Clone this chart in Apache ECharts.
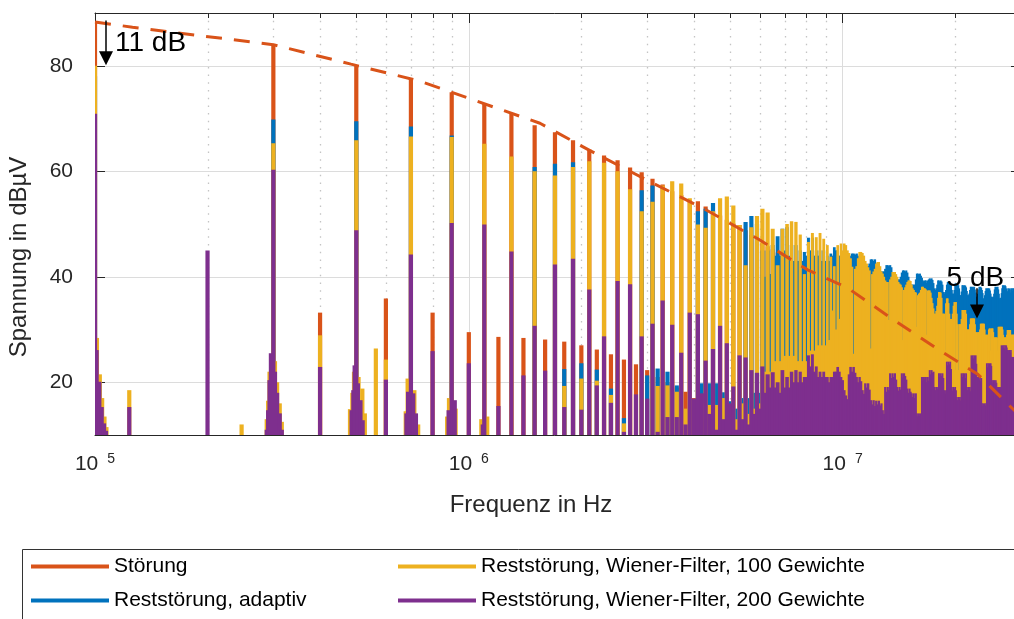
<!DOCTYPE html>
<html>
<head>
<meta charset="utf-8">
<script src="https://cdn.jsdelivr.net/npm/echarts@6/dist/echarts.min.js"></script>
<style>
html,body{margin:0;padding:0;background:#fff;}
#chart{width:1014px;height:619px;}
</style>
</head>
<body>
<div id="chart"></div>
<script>
// ---------------- DATA ----------------
// Spectral lines: array index i  ->  harmonic order n = i + 1, frequency = n * 100 kHz
const harmonicStepHz = 100000;

const stoerung = [
 88.3, null, 84.0, 33.2, 80.0, 35.9, 77.5, 33.2, 75.0, 29.5,
 72.8, 28.6, 70.9, 28.4, 68.7, 28.1, 67.4, 27.7, 65.9, 27.0,
 64.1, 26.2, 63.0, 25.3, 62.1, 24.3, 60.7, 23.4, 59.8, 22.3,
 58.6, 21.0, 57.5, 20.0, 56.2, 19.0, 55.5, 18.2, 54.5, 17.0,
 54.3, 16.0, 53.3, 15.0, 52.4, 15.0, 51.6, 14.0, 50.8, 14.0,
 50.1, 13.0, 49.8, 13.0, 48.8, 13.0, 47.9, 12.0, 47.2, 12.0,
 46.4, null, 45.8, null, 45.2, null, 44.6, null, 44.0, null,
 43.5, null, 43.0, null, 42.4, null, 41.9, null, 41.4, null,
 40.9, null, 40.4, null, 40.0, null, 39.5, null, 39.0, null,
 38.6, null, 38.2, null, 37.8, null, 37.4, null, 37.0
];

const adaptiv = [
 78.0, null, 69.8, null, 69.5, null, 68.5, null, 66.8, null,
 null, null, null, null, 60.8, null, 61.4, 22.5, 61.7, 23.6,
 null, 22.4, null, 18.8, null, 13.2, null, null, 56.4, 21.3,
 57.3, 22.6, null, 22.0, null, 19.4, null, null, null, null,
 52.4, 19.8, 52.9, 19.8, 54.0, 19.8, null, 18.1, null, 16.4,
 null, 15.0, null, 17.0, 50.4, 17.0, 51.5, 18.0, 50.0, 18.0,
 45.0, 40.0, 45.0, 40.5, 46.0, 44.0, 47.7, 44.0, 49.1, 45.0,
 49.4, 44.0, 46.0, 43.0, 46.0, 43.0, 45.0, 43.0, 44.7, 44.0,
 47.4, 45.0, 47.4, 44.0, 45.0, 44.0, 45.0, 43.0, 45.0, 43.0,
 44.0, 43.0, 44.4, 44.0, 45.6, 45.0, 45.0, 44.0, 44.0, 43.0,
 43.0, 43.0, 43.0, 43.5, 44.0, 44.4, 44.4, 44.2, 44.4, 44.0,
 43.5, 42.0, 42.0, 42.0, 42.0, 42.0, 42.0, 42.5, 43.3, 43.3,
 43.0, 43.3, 42.5, 41.0, 41.0, 41.0, 41.0, 41.0, 41.0, 41.5,
 42.2, 42.2, 42.0, 42.2, 41.8, 39.5, 39.5, 39.5, 39.5, 39.5,
 39.5, 39.5, 40.0, 40.8, 41.2, 41.2, 41.0, 41.2, 40.8, 40.0,
 38.5, 38.5, 38.5, 38.5, 38.5, 38.5, 39.5, 40.6, 40.6, 40.4,
 40.6, 40.2, 39.8, 39.3, 39.0, 39.3, 39.3, 38.8, 39.3, 39.5,
 39.7, 39.5, 39.7, 39.4, 38.8, 37.8, 37.5, 37.8, 38.5, 39.3,
 39.3, 39.0, 39.3, 39.1, 38.5, 37.1, 36.8, 37.1, 37.5, 38.5,
 39.0, 38.8, 39.0, 38.9, 38.5, 37.5, 36.8, 36.8, 37.5, 38.7,
 38.7, 38.5, 38.7, 38.4, 37.8, 36.5, 36.5, 37.2, 38.4, 38.4,
 38.2, 38.4, 38.3, 38.0, 37.3, 36.5, 36.5, 36.8, 37.5, 38.1,
 38.1, 37.9, 38.1, 38.0, 38.1, 37.6, 37.0, 36.2, 36.2, 36.8,
 37.6, 38.1, 38.0, 38.1, 37.9, 37.5, 36.9, 35.9, 35.9, 36.5,
 37.3, 37.8, 37.6, 37.8, 37.8, 37.7, 37.8, 37.4, 36.8, 36.2,
 36.2, 36.0, 36.2, 36.8, 37.6, 38.1, 38.0, 38.1, 37.9, 38.1,
 37.6, 36.8, 35.9, 35.9, 36.0, 36.9, 37.8, 38.4, 38.3, 38.4,
 38.2, 38.4, 38.2, 37.8, 37.3, 37.2, 37.8, 37.6, 37.8, 37.5,
 37.0, 37.8, 37.6, 37.8, 37.3, 37.8, 37.6, 37.8, 37.4, 37.8
];

const wiener100 = [
 80.0, null, 65.3, 28.9, 65.9, 24.3, 66.6, null, 66.5, null,
 65.2, null, 62.8, null, 60.0, null, 59.2, 19.3, 60.8, 20.7,
 61.9, 20.3, 61.6, 17.6, 60.0, 12.2, 56.6, null, 52.4, null,
 54.2, 19.3, 57.3, 19.4, 58.1, 18.2, 57.7, 15.0, 54.9, null,
 49.9, 16.0, 49.3, 15.7, 52.4, 15.7, 54.9, 17.0, 55.2, 15.0,
 53.5, 13.0, 49.8, 16.0, 42.2, 14.0, 49.4, 15.0, 51.5, 16.0,
 52.9, 22.0, 52.2, 22.0, 49.1, 24.0, 42.2, 24.0, 49.1, 25.0,
 50.0, 25.0, 50.5, 25.0, 50.4, 24.0, 48.0, 24.0, 40.5, 24.0,
 46.6, 26.0, 48.3, 26.0, 47.5, 27.0, 48.3, 27.0, 47.2, 27.0,
 46.0, 28.0, 43.8, 33.6, 42.0, 30.0, 46.0, 32.0, 46.3, 45.0,
 46.3, 46.0, 45.0, 44.5, 43.5, 41.9, 25.4, 41.5, 42.0, 43.5,
 44.7, 44.7, 44.5, 44.0, 43.0, 42.5, 41.8, 41.2, 26.4, 40.5,
 41.0, 41.5, 42.5, 42.8, 42.8, 42.0, 41.0, 40.6, 40.0, 39.3,
 39.0, 39.0, 31.8, 39.5, 40.0, 40.9, 40.9, 40.9, 40.5, 40.0,
 39.0, 38.7, 38.5, 38.0, 28.0, 37.5, 38.0, 38.5, 39.0, 39.3,
 39.3, 39.2, 38.5, 37.8, 37.5, 37.1, 37.0, 30.5, 36.5, 36.8,
 37.0, 37.5, 38.1, 38.1, 37.8, 37.8, 37.6, 29.0, 37.4, 37.4,
 37.4, 37.0, 36.0, 35.0, 34.0, 33.0, 33.0, 33.5, 34.5, 36.0,
 37.1, 37.1, 37.0, 36.0, 33.0, 33.0, 33.0, 26.0, 35.0, 35.9,
 35.9, 35.0, 33.0, 32.0, 32.0, 32.0, 33.0, 34.5, 35.2, 22.3,
 35.2, 33.0, 31.0, 22.3, 31.0, 31.0, 31.0, 32.0, 33.7, 33.7,
 33.7, 33.7, 33.7, 33.0, 30.0, 30.0, 30.0, 30.0, 31.0, 32.1,
 32.1, 32.1, 32.1, 32.1, 32.1, 31.0, 29.5, 29.5, 25.0, 29.5,
 29.5, 29.5, 30.0, 31.1, 31.1, 31.1, 31.1, 31.1, 31.1, 30.0,
 29.0, 29.0, 29.0, 29.0, 29.0, 30.0, 30.2, 30.2, 26.0, 30.2,
 30.2, 30.2, 29.5, 28.5, 28.5, 28.5, 28.5, 28.5, 28.5, 26.0,
 30.5, 30.5, 30.5, 30.5, 30.5, 30.5, 30.5, 30.0, 29.0, 28.5,
 28.5, 28.5, 28.5, 28.5, 29.0, 29.9, 29.9, 29.9, 29.9, 29.9,
 29.9, 29.0, 29.0, 29.0, 29.0, 29.0, 29.0, 29.0, 29.0, 29.0
];

const wiener200 = [
 70.9, 45.0, 60.3, 22.9, 48.8, 20.5, 44.2, 25.9, 50.2, 23.6,
 49.9, 15.5, 44.8, 21.3, 30.7, 22.2, 42.3, 15.3, 43.4, 14.8,
 37.6, 19.4, 28.7, 16.1, 39.2, 10.6, 38.6, 17.7, 28.7, 16.9,
 31.1, 10.6, 35.5, 13.4, 30.9, 13.4, 25.6, 12.0, 33.2, 16.9,
 32.9, 17.9, 24.1, 14.0, 26.3, 11.0, 30.7, 13.0, 27.4, 16.0,
 19.2, 11.0, 25.1, 13.0, 24.7, 12.0, 22.3, 14.0, 21.8, 15.0,
 23.0, 18.0, 21.5, 19.0, 21.9, 19.0, 20.0, 18.0, 22.3, 19.0,
 21.0, 19.0, 22.0, 20.0, 22.3, 20.0, 22.0, 20.0, 21.0, 21.0,
 25.1, 23.0, 25.3, 22.0, 23.0, 21.0, 22.0, 21.0, 22.0, 21.0,
 21.0, 20.0, 21.0, 21.0, 22.0, 22.0, 22.9, 22.0, 21.0, 20.4,
 18.5, 17.5, 16.8, 21.5, 22.9, 22.0, 22.9, 21.8, 21.0, 20.0,
 21.0, 20.2, 18.5, 17.8, 19.8, 19.0, 19.8, 18.6, 16.6, 15.8,
 16.6, 15.5, 16.5, 15.8, 16.5, 15.6, 16.0, 14.7, 14.0, 19.1,
 18.2, 19.1, 18.5, 21.7, 20.8, 21.7, 21.0, 21.7, 20.5, 19.1,
 18.4, 19.1, 18.6, 21.7, 20.9, 21.7, 21.2, 20.5, 18.8, 18.0,
 18.8, 18.2, 17.9, 17.2, 17.9, 17.0, 17.9, 14.1, 13.5, 14.1,
 13.6, 14.1, 21.0, 20.2, 21.0, 20.5, 21.0, 20.0, 21.0, 20.3,
 22.3, 21.5, 22.3, 21.8, 22.0, 19.1, 18.5, 19.1, 18.7, 19.1,
 21.7, 21.0, 21.7, 21.2, 21.7, 20.8, 18.5, 17.9, 18.5, 23.9,
 23.2, 23.9, 23.4, 23.9, 22.5, 19.1, 18.4, 19.1, 18.8, 19.1,
 18.5, 17.2, 16.6, 17.2, 16.8, 17.2, 16.5, 21.7, 21.0, 21.7,
 21.2, 21.7, 20.8, 21.7, 19.1, 18.5, 19.1, 18.6, 19.1, 18.3,
 25.1, 24.2, 25.1, 24.5, 25.1, 24.0, 25.1, 23.5, 21.0, 20.4,
 21.0, 20.5, 21.0, 20.2, 20.8, 16.0, 15.5, 16.0, 15.4, 16.0,
 15.6, 16.0, 23.6, 22.8, 23.6, 23.0, 23.6, 22.7, 23.6, 23.1,
 20.4, 19.8, 20.4, 20.0, 20.4, 19.6, 20.4, 19.9, 19.1, 18.6,
 19.1, 18.5, 19.1, 18.8, 19.1, 27.0, 26.2, 27.0, 26.5, 27.0,
 26.4, 27.0, 26.0, 27.0, 26.6, 26.1, 25.5, 26.1, 25.7, 26.1,
 25.6, 26.1, 24.8, 24.2, 24.8, 24.4, 24.8, 24.1, 24.8, 24.5
];

// Leakage skirts and small off-harmonic lines [Hz] / [dBµV]
const wiener100ExtraHz = [1.012e5, 1.03e5, 1.045e5, 1.06e5, 1.073e5, 1.235e5, 2.467e5,
  2.88e5, 2.905e5, 2.93e5, 3.03e5, 3.07e5, 3.12e5, 3.16e5,
  4.81e5, 4.88e5, 4.93e5, 5.07e5, 5.19e5, 5.27e5, 5.64e5,
  6.78e5, 6.86e5, 7.15e5, 7.32e5, 8.75e5, 8.85e5, 9.22e5, 1.08e6, 1.12e6];
const wiener100ExtraDb = [28.4, 21.5, 17.0, 13.5, 11.5, 18.5, 12.0,
  13.0, 16.5, 22.0, 24.0, 20.0, 16.0, 12.5,
  14.9, 18.0, 22.0, 21.0, 18.8, 14.1, 26.4,
  14.5, 20.7, 18.5, 12.0, 13.5, 17.0, 15.0, 13.0, 13.5];
const wiener200ExtraHz = [1.01e5, 1.027e5, 1.042e5, 1.057e5, 1.07e5, 1.235e5,
  2.88e5, 2.905e5, 2.93e5, 2.955e5, 3.03e5, 3.07e5, 3.12e5, 3.16e5,
  4.86e5, 4.91e5, 4.95e5, 5.05e5, 5.13e5, 5.2e5,
  6.81e5, 6.88e5, 7.1e5, 7.22e5, 8.83e5, 9.17e5, 1.09e6];
const wiener200ExtraDb = [26.1, 20.1, 15.3, 12.2, 10.8, 15.3,
  11.0, 14.7, 20.4, 25.5, 22.0, 18.0, 14.1, 11.0,
  14.7, 18.5, 23.2, 19.8, 16.6, 12.8,
  14.1, 18.2, 17.9, 14.1, 14.7, 16.6, 12.0];

// Dashed envelope of the disturbance
const envelopeHz = [1e5, 1.26e5, 1.91e5, 3e5, 4.84e5, 7.39e5, 1.03e6, 1.55e6, 2.11e6, 3.0e6,
  4.28e6, 5.96e6, 8.06e6, 1.03e7, 1.32e7, 1.82e7, 2.30e7, 2.80e7, 3.0e7];
const envelopeDb = [88.3, 87.3, 85.7, 84.0, 80.3, 77.1, 73.5, 69.1, 63.9, 58.3,
  52.8, 47.1, 41.3, 37.9, 32.6, 26.0, 21.5, 15.5, 13.5];

const yTickLabels = [20, 40, 60, 80];
const xDecadeExponents = [5, 6, 7];
const minorGridHz = [2e5, 3e5, 4e5, 5e5, 6e5, 7e5, 8e5, 9e5,
  2e6, 3e6, 4e6, 5e6, 6e6, 7e6, 8e6, 9e6, 2e7];

const seriesNames = ['Störung', 'Reststörung, adaptiv',
  'Reststörung, Wiener-Filter, 100 Gewichte', 'Reststörung, Wiener-Filter, 200 Gewichte'];

// annotations: [Hz, dBµV]
const arrow11 = [[1.07e5, 88.6], [1.07e5, 81.4]];
const arrow5 = [[2.288e7, 37.8], [2.288e7, 33.4]];
const label11 = [1.131e5, 84.2];
const label5 = [1.897e7, 39.7];

// ---------------- CHART ----------------
const FONT = "'Liberation Sans', Arial, Helvetica, sans-serif";
const Y_MIN = 10, Y_MAX = 90, X_MIN = 1e5, X_MAX = 3e7;
const COLORS = ['#D95319', '#0072BD', '#EDB120', '#7E2F8E'];
const AXIS_COLOR = '#262626';
const LINE_W = 4.2;

function harmonicData(values) {
  const out = [];
  values.forEach(function (v, i) { if (v != null) out.push([(i + 1) * harmonicStepHz, v]); });
  return out;
}
function pairData(hz, db) { return hz.map(function (f, i) { return [f, db[i]]; }); }

function spikeSeries(name, color, data, z) {
  return {
    type: 'custom', name: name, coordinateSystem: 'cartesian2d',
    clip: true, z: z, silent: true, itemStyle: { color: color },
    encode: { x: 0, y: 1 }, data: data,
    renderItem: function (params, api) {
      const f = api.value(0), v = api.value(1);
      const top = api.coord([f, v]);
      const base = api.coord([f, Y_MIN]);
      const s = api.coord([f + harmonicStepHz / 2, v])[0] - api.coord([f - harmonicStepHz / 2, v])[0];
      const w = Math.min(LINE_W, Math.max(2 * s - 1, s + 1));
      return { type: 'rect', shape: { x: top[0] - w / 2, y: top[1], width: w, height: base[1] - top[1] },
        style: { fill: color } };
    }
  };
}

const chart = echarts.init(document.getElementById('chart'), null, { renderer: 'canvas' });

const option = {
  animation: false,
  backgroundColor: '#ffffff',
  textStyle: { fontFamily: FONT },
  grid: { left: 95, top: 13, width: 926, height: 422, containLabel: false, outerBoundsMode: 'none' },
  xAxis: [{
    type: 'log', logBase: 10, min: X_MIN, max: X_MAX, position: 'bottom',
    axisLine: { show: true, onZero: false, lineStyle: { color: AXIS_COLOR, width: 1 } },
    axisTick: { show: true, inside: true, length: 10, lineStyle: { color: AXIS_COLOR, width: 1 } },
    splitLine: { show: true, lineStyle: { color: '#dcdcdc', width: 1 } },
    axisLabel: {
      margin: 17, color: AXIS_COLOR,
      formatter: function (v) {
        const e = Math.round(Math.log10(v));
        if (Math.abs(Math.log10(v) - e) > 1e-6 || xDecadeExponents.indexOf(e) < 0) return '';
        return '{b|10}{e|' + e + '}';
      },
      rich: {
        b: { fontSize: 21, color: AXIS_COLOR, fontFamily: FONT, lineHeight: 24, padding: [0, 9, 0, 0] },
        e: { fontSize: 14, color: AXIS_COLOR, fontFamily: FONT, lineHeight: 10, verticalAlign: 'top' }
      }
    },
    name: 'Frequenz in Hz', nameLocation: 'middle', nameGap: 58,
    nameTextStyle: { fontSize: 24, color: AXIS_COLOR, fontFamily: FONT, padding: [0, 54, 0, 0] }
  }, {
    type: 'log', logBase: 10, min: X_MIN, max: X_MAX, position: 'top',
    axisLine: { show: true, lineStyle: { color: AXIS_COLOR, width: 1 } },
    axisTick: { show: true, inside: true, length: 10, lineStyle: { color: AXIS_COLOR, width: 1 } },
    axisLabel: { show: false }, splitLine: { show: false }
  }],
  yAxis: [{
    type: 'value', min: Y_MIN, max: Y_MAX, interval: 10,
    axisLine: { show: true, lineStyle: { color: AXIS_COLOR, width: 1 } },
    axisTick: { show: false }, splitLine: { show: false },
    axisLabel: {
      fontSize: 21, color: AXIS_COLOR, fontFamily: FONT, margin: 22,
      formatter: function (v) { return yTickLabels.indexOf(v) >= 0 ? String(v) : ''; }
    },
    name: 'Spannung in dBµV', nameLocation: 'middle', nameRotate: 90, nameGap: 64,
    nameTextStyle: { fontSize: 24, color: AXIS_COLOR, fontFamily: FONT, padding: [0, 66, 0, 0] }
  }],
  legend: [{
    data: [seriesNames[0], seriesNames[1]], left: 31, top: 556, orient: 'vertical',
    itemWidth: 78, itemHeight: 4, itemGap: 13, icon: 'rect', selectedMode: false, padding: 0,
    textStyle: { fontSize: 21, color: '#000', fontFamily: FONT }
  }, {
    data: [seriesNames[2], seriesNames[3]], left: 398, top: 556, orient: 'vertical',
    itemWidth: 78, itemHeight: 4, itemGap: 13, icon: 'rect', selectedMode: false, padding: 0,
    textStyle: { fontSize: 21, color: '#000', fontFamily: FONT }
  }],
  graphic: [{
    type: 'rect', silent: true, z: 0,
    shape: { x: 22.5, y: 549.5, width: 1200, height: 200 },
    style: { fill: 'none', stroke: '#333333', lineWidth: 1 }
  }],
  series: [
    {
      type: 'custom', name: 'minorGrid', coordinateSystem: 'cartesian2d', silent: true, z: 1, clip: false,
      data: minorGridHz.map(function (f) { return [f, Y_MIN]; }),
      renderItem: function (params, api) {
        const cs = params.coordSys;
        const x = Math.round(api.coord([api.value(0), Y_MIN])[0]) + 0.5;
        const yb = cs.y + cs.height, yt = cs.y;
        return { type: 'group', children: [
          { type: 'line', shape: { x1: x, y1: yt, x2: x, y2: yb }, style: { stroke: '#c4c4c4', lineWidth: 1.3, lineDash: [1.5, 6.2] } },
          { type: 'line', shape: { x1: x, y1: yb - 5, x2: x, y2: yb }, style: { stroke: AXIS_COLOR, lineWidth: 1 } },
          { type: 'line', shape: { x1: x, y1: yt, x2: x, y2: yt + 5 }, style: { stroke: AXIS_COLOR, lineWidth: 1 } }
        ] };
      }
    },
    {
      type: 'custom', name: 'hGrid', coordinateSystem: 'cartesian2d', silent: true, z: 1, clip: false,
      data: yTickLabels.map(function (v) { return [X_MIN, v]; }),
      renderItem: function (params, api) {
        const cs = params.coordSys;
        const y = Math.round(api.coord([X_MIN, api.value(1)])[1]) + 0.5;
        const x0 = cs.x, x1 = cs.x + cs.width;
        return { type: 'group', children: [
          { type: 'line', shape: { x1: x0, y1: y, x2: x1, y2: y }, style: { stroke: '#dcdcdc', lineWidth: 1 } },
          { type: 'line', shape: { x1: x0, y1: y, x2: x0 + 10, y2: y }, style: { stroke: AXIS_COLOR, lineWidth: 1 } },
          { type: 'line', shape: { x1: x1 - 10, y1: y, x2: x1, y2: y }, style: { stroke: AXIS_COLOR, lineWidth: 1 } }
        ] };
      }
    },
    spikeSeries(seriesNames[0], COLORS[0], harmonicData(stoerung), 2),
    spikeSeries(seriesNames[1], COLORS[1], harmonicData(adaptiv), 2),
    spikeSeries(seriesNames[2], COLORS[2], harmonicData(wiener100).concat(pairData(wiener100ExtraHz, wiener100ExtraDb)), 2),
    spikeSeries(seriesNames[3], COLORS[3], harmonicData(wiener200).concat(pairData(wiener200ExtraHz, wiener200ExtraDb)), 2),
    {
      type: 'line', name: 'Hüllkurve', data: pairData(envelopeHz, envelopeDb),
      showSymbol: false, symbol: 'none', clip: true, z: 4, silent: true,
      lineStyle: { color: COLORS[0], width: 3, type: [16, 12] },
      markLine: {
        silent: true, animation: false, symbol: ['none', 'triangle'], symbolSize: 14,
        label: { show: false },
        lineStyle: { color: '#000', width: 1.5, type: 'solid' },
        itemStyle: { color: '#000' },
        data: [
          [{ coord: arrow11[0] }, { coord: arrow11[1] }],
          [{ coord: arrow5[0] }, { coord: arrow5[1] }]
        ]
      },
      markPoint: {
        silent: true, animation: false, symbol: 'rect', symbolSize: 0,
        itemStyle: { color: 'rgba(0,0,0,0)' },
        label: { show: true, position: 'right', distance: 0, formatter: '{b}',
          fontSize: 28, color: '#000', fontFamily: FONT },
        data: [
          { name: '11 dB', coord: label11 },
          { name: '5 dB', coord: label5 }
        ]
      }
    }
  ]
};

chart.setOption(option);
</script>
</body>
</html>
